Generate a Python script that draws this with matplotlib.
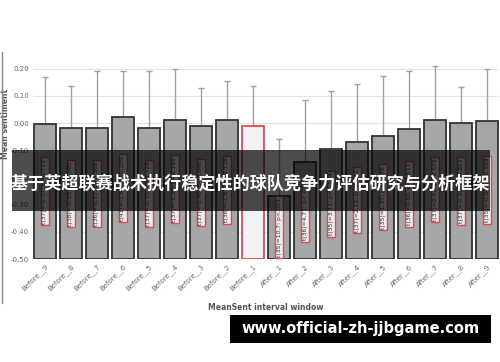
import matplotlib
matplotlib.use("Agg")
import matplotlib.pyplot as plt
from matplotlib.patches import Rectangle
from matplotlib.lines import Line2D

# 数据：各时间窗口的平均情绪值及误差
windows = ["Before__9", "Before__8", "Before__7", "Before__6", "Before__5",
           "Before__4", "Before__3", "Before__2", "Before__1",
           "After__1", "After__2", "After__3", "After__4", "After__5",
           "After__6", "After__7", "After__8", "After__9"]
mean_sent = [-0.003, -0.018, -0.018, 0.021, -0.018, 0.012, -0.012, 0.010, -0.010,
             -0.267, -0.145, -0.094, -0.068, -0.046, -0.022, 0.012, 0.001, 0.006]
err = [0.172, 0.153, 0.208, 0.172, 0.211, 0.188, 0.140, 0.144, 0.145,
       0.210, 0.231, 0.212, 0.211, 0.219, 0.213, 0.196, 0.131, 0.194]
t_labels = ["t(37)=-0.37; p=0.712", "t(38)=-0.55; p=0.585", "t(36)=-0.17; p=0.868",
            "t(41)=-1.64; p=0.109", "t(37)=-0.35; p=0.728", "t(37)=-1.33; p=0.191",
            "t(37)=-0.46; p=0.646", "t(36)=-1.61; p=0.116", "",
            "t(35)=10.7; p<.001", "t(36)=4.71; p<.001", "t(35)=3.11; p=0.004",
            "t(37)=2.12; p=0.041", "t(35)=1.37; p=0.178", "t(36)=0.66; p=0.511",
            "t(37)=0.42; p=0.678", "t(37)=-0.06; p=0.952", "t(35)=-0.00; p=0.999"]
ref_window = "Before__1"
y_min = -0.5

title_text = "基于英超联赛战术执行稳定性的球队竞争力评估研究与分析框架"
watermark = "www.official-zh-jjbgame.com"

fig = plt.figure(figsize=(5, 3.62), dpi=100)
ax = fig.add_axes([0.066, 0.2845, 0.932, 0.5635])

x = list(range(len(windows)))
heights = [m - y_min for m in mean_sent]
fills = ["#f2f2f2" if w == ref_window else "#a6a6a6" for w in windows]
edges = ["#e8474c" if w == ref_window else "#333333" for w in windows]

ax.errorbar(x, mean_sent, yerr=err, fmt="none", ecolor="#a0a0a0",
            elinewidth=1, capsize=2.5, capthick=1, zorder=1)
ax.bar(x, heights, bottom=y_min, width=0.85, color=fills, edgecolor=edges,
       linewidth=1.3, zorder=2)

for xi, m, lab in zip(x, mean_sent, t_labels):
    if not lab:
        continue
    ax.text(xi, (m + y_min) / 2, lab, rotation=90, ha="center", va="center",
            fontsize=4.3, color="#333333", zorder=3,
            bbox=dict(boxstyle="square,pad=0.25", facecolor="#ececec",
                      edgecolor="#e8474c", linewidth=1))

ax.set_xlim(-0.45, len(windows) - 0.55)
ax.set_ylim(y_min, 0.25)
ax.set_yticks([0.2, 0.1, 0.0, -0.1, -0.2, -0.3, -0.4, -0.5])
ax.set_yticklabels(["0.20", "0.10", "0.00", "-0.10", "-0.20", "-0.30", "-0.40", "-0.50"])
ax.set_xticks(x)
ax.set_xticklabels(windows, rotation=45, ha="right", rotation_mode="anchor")
ax.tick_params(axis="both", length=0, labelsize=5, labelcolor="#666666", pad=3)
ax.yaxis.grid(True, color="#e3e3e3", linewidth=0.8, zorder=0)
ax.set_axisbelow(True)
for s in ax.spines.values():
    s.set_visible(False)

ax.set_xlabel("MeanSent interval window", fontsize=5.5, color="#555555",
              fontweight="bold", labelpad=8)
ax.set_ylabel("Mean sentiment", fontsize=5.5, color="#555555", fontweight="bold")
ax.yaxis.set_label_coords(-0.05, 0.66)

# 左侧边框线
fig.add_artist(Line2D([0.004, 0.004], [1 - 52 / 362, 1 - 303 / 362],
                      transform=fig.transFigure, color="#888888", linewidth=1))

# 半透明标题横幅
fig.add_artist(Rectangle((12 / 500, 1 - 211 / 362), 478 / 500, 61 / 362,
                         transform=fig.transFigure, facecolor="black",
                         alpha=0.7, edgecolor="none", zorder=10))
fig.text(0.5, 1 - 184 / 362, title_text, ha="center", va="center", color="white",
         fontsize=12.3, fontweight="bold", zorder=11,
         family=["Noto Sans CJK SC", "DejaVu Sans"])

# 网址水印
fig.add_artist(Rectangle((230 / 500, 1 - 343 / 362), 261 / 500, 28 / 362,
                         transform=fig.transFigure, facecolor="black",
                         edgecolor="none", zorder=10))
fig.text(360.5 / 500, 1 - 329 / 362, watermark, ha="center", va="center",
         color="white", fontsize=10.5, fontweight="bold", zorder=11,
         family="DejaVu Sans")

fig.savefig("out.png", dpi=100)
